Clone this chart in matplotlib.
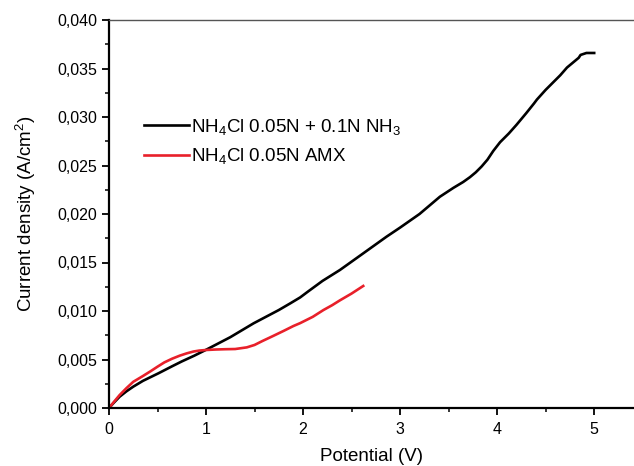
import numpy as np
import matplotlib
matplotlib.use("Agg")
import matplotlib.pyplot as plt
from matplotlib.ticker import MultipleLocator, FuncFormatter

plt.rcParams['font.family'] = ['Liberation Sans', 'DejaVu Sans']
plt.rcParams['mathtext.fontset'] = 'custom'
plt.rcParams['mathtext.rm'] = 'Liberation Sans'
plt.rcParams['mathtext.default'] = 'regular'

# NH4Cl 0.05N + 0.1N NH3 (black)
pot_nh3 = [0, 0.05, 0.11, 0.18, 0.25, 0.35, 0.51, 0.65, 0.75, 0.88, 1.0,
           1.25, 1.49, 1.75, 1.87, 1.97, 2.05, 2.2, 2.38, 2.6, 2.86, 3.0,
           3.2, 3.41, 3.55, 3.65, 3.72, 3.78, 3.84, 3.9, 3.96, 4.03, 4.12,
           4.2, 4.3, 4.38, 4.41, 4.5, 4.6, 4.65, 4.72, 4.78, 4.84, 4.86,
           4.92, 5.0]
cur_nh3 = [0, 0.00055, 0.00117, 0.00172, 0.0022, 0.0028, 0.00358, 0.0043,
           0.0048, 0.0054, 0.0060, 0.0073, 0.00873, 0.0101, 0.0108, 0.0114,
           0.0120, 0.0131, 0.01423, 0.0158, 0.01766, 0.0186, 0.0200, 0.02178,
           0.0227, 0.0233, 0.0238, 0.0243, 0.0249, 0.0256, 0.0265, 0.0274,
           0.0283, 0.0292, 0.0304, 0.0314, 0.0318, 0.0328, 0.0338, 0.0343,
           0.0351, 0.0356, 0.0361, 0.0364, 0.0366, 0.0366]

# NH4Cl 0.05N AMX (red)
pot_amx = [0, 0.05, 0.11, 0.18, 0.25, 0.35, 0.43, 0.5, 0.57, 0.65, 0.73,
           0.8, 0.87, 0.93, 1.0, 1.1, 1.2, 1.3, 1.42, 1.5, 1.58, 1.69, 1.8,
           1.9, 1.97, 2.1, 2.21, 2.3, 2.38, 2.5, 2.62]
cur_amx = [0, 0.00062, 0.00134, 0.00205, 0.0027, 0.0033, 0.0038, 0.00426,
           0.0047, 0.00508, 0.0054, 0.00563, 0.00582, 0.00592, 0.00598,
           0.00603, 0.00606, 0.00608, 0.00625, 0.0065, 0.0069, 0.00742,
           0.00795, 0.00845, 0.00875, 0.0094, 0.0101, 0.0106, 0.0111,
           0.0118, 0.01258]

fig = plt.figure(figsize=(6.34, 4.66), dpi=100)
ax = fig.add_axes([109 / 634, 58 / 466, 524 / 634, 388 / 466])

ax.plot(pot_nh3, cur_nh3, color='black', lw=1.9,
        label=r'NH$_4$Cl 0.05N + 0.1N NH$_3$')
ax.plot(pot_amx, cur_amx, color='#e8202a', lw=1.9,
        label=r'NH$_4$Cl 0.05N AMX')

ax.set_xlim(0, 5.4)
ax.set_ylim(0, 0.040)
ax.xaxis.set_major_locator(MultipleLocator(1))
ax.xaxis.set_minor_locator(MultipleLocator(0.5))
ax.yaxis.set_major_locator(MultipleLocator(0.005))
ax.yaxis.set_minor_locator(MultipleLocator(0.0025))
ax.yaxis.set_major_formatter(FuncFormatter(lambda v, p: f"{v:.3f}".replace('.', ',')))

ax.spines['right'].set_visible(False)
ax.spines['top'].set_color('#555555')
ax.spines['top'].set_linewidth(1.0)
ax.spines['left'].set_linewidth(1.6)
ax.spines['bottom'].set_linewidth(1.6)
ax.tick_params(which='major', direction='out', length=5, width=1.3,
               labelsize=11.5, top=False, right=False)
ax.tick_params(which='minor', direction='out', length=3, width=1.1,
               top=False, right=False)
ax.tick_params(axis='x', pad=5)

ax.set_xlabel('Potential (V)', fontsize=13.5, labelpad=8)
ax.set_ylabel('Current density (A/cm$^2$)', fontsize=13.5, labelpad=14)

ax.legend(loc='center left', bbox_to_anchor=(0.048, 0.687), frameon=False,
          fontsize=13.5, borderpad=0, handlelength=2.4, handletextpad=0.15,
          labelspacing=0.5)

fig.savefig('out.png', dpi=100)
